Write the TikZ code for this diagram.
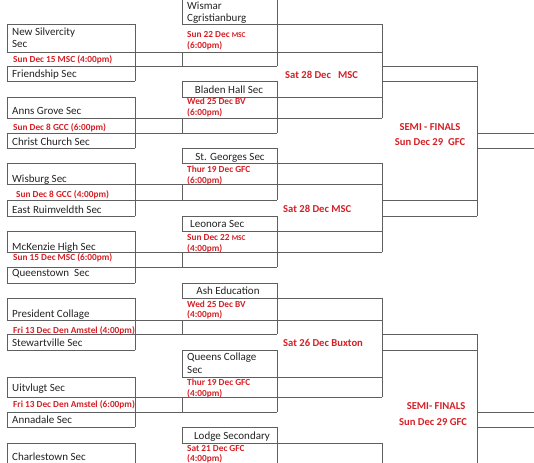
\documentclass[tikz,border=0pt]{standalone}
\usepackage{fontspec}
\setmainfont{Carlito}
\definecolor{dred}{RGB}{214,32,38}
\definecolor{gridc}{RGB}{95,95,95}
\definecolor{ink}{RGB}{35,35,35}
\begin{document}
\begin{tikzpicture}[x=1pt,y=-1pt,
  ln/.style={draw=gridc,line width=0.8pt},
  team/.style={inner sep=0pt,anchor=base west,text=ink,font=\fontsize{11}{13}\selectfont},
  teamc/.style={inner sep=0pt,anchor=base,text=ink,font=\fontsize{11}{13}\selectfont},
  date/.style={inner sep=0pt,anchor=base west,text=dred,font=\fontsize{9.3}{10}\selectfont\bfseries},
  rnd/.style={inner sep=0pt,anchor=base west,text=dred,font=\fontsize{10.6}{12}\selectfont\bfseries},
  semi/.style={inner sep=0pt,anchor=base,text=dred,font=\fontsize{10.6}{12}\selectfont\bfseries}]
\useasboundingbox (0,0) rectangle (534,462);
\clip (0,0) rectangle (534,462);
\fill[white] (0,0) rectangle (534,462);
% bracket grid
\foreach \t/\a/\b/\c/\d in {-3/24/52/66/81,81/97/118/133/148,148/163/184/200/216,216/231/252/267/283,283/298/320/334/350,350/377/397/412/427,427/443/464/478/494}{
  \draw[ln] (7,\a) -- (135,\a) (7,\d) -- (135,\d);
  \draw[ln] (7,\b) -- (382,\b);
  \draw[ln] (7,\c) -- (277,\c);
  \draw[ln] (182,\t) -- (277,\t);
  \draw[ln] (182,\a) -- (382,\a);
  \draw[ln] (7,\a) -- (7,\b) (7,\c) -- (7,\d) (135,\a) -- (135,\d);
  \draw[ln] (182,\t) -- (182,\a) (182,\b) -- (182,\c) (277,\t) -- (277,\c);
}
% third round
\draw[ln] (382,24) -- (382,118) (382,163) -- (382,252) (382,298) -- (382,397) (382,443) -- (382,470);
\draw[ln] (382,66) -- (477,66) (382,81) -- (477,81) (382,200) -- (477,200) (382,216) -- (477,216)
          (382,334) -- (477,334) (382,350) -- (477,350);
% semi finals
\draw[ln] (477,66) -- (477,216) (477,334) -- (477,470);
\draw[ln] (477,133) -- (534,133) (477,148) -- (534,148) (477,412) -- (534,412) (477,427) -- (534,427);
% first column
\node[team] (t1a) at (12,35.5) {New Silvercity};
\node[team] (t1a2) at (12,48) {Sec};
\node[date] (d1) at (13,63) {Sun Dec 15 MSC (4:00pm)};
\node[team] (t1b) at (12,77.5) {Friendship Sec};
\node[team] (t2a) at (12,114.5) {Anns Grove Sec};
\node[date] (d2) at (13,130.5) {Sun Dec 8 GCC (6:00pm)};
\node[team] (t2b) at (12,145.5) {Christ Church Sec};
\node[team] (t3a) at (12,182.5) {Wisburg Sec};
\node[date] (d3) at (16,197) {Sun Dec 8 GCC (4:00pm)};
\node[team] (t3b) at (12,213.5) {East Ruimveldth Sec};
\node[team] (t4a) at (12,250.5) {McKenzie High Sec};
\node[date] (d4) at (13,260) {Sun 15 Dec MSC (6:00pm)};
\node[team] (t4b) at (12,276.5) {Queenstown\ \ Sec};
\node[team] (t5a) at (12,317.5) {President Collage};
\node[date] (d5) at (13,333) {Fri 13 Dec Den Amstel (4:00pm)};
\node[team] (t5b) at (12,346.5) {Stewartville Sec};
\node[team] (t6a) at (12,391.5) {Uitvlugt Sec};
\node[date] (d6) at (13,407) {Fri 13 Dec Den Amstel (6:00pm)};
\node[team] (t6b) at (12,423.5) {Annadale Sec};
\node[team] (t7a) at (12,460) {Charlestown Sec};
% second column
\node[team] (m1) at (187,10) {Wismar};
\node[team] (m1b) at (187,21.5) {Cgristianburg};
\node[date] (md1) at (187,38) {Sun 22 Dec {\fontsize{7.4}{8}\selectfont MSC}};
\node[date] (md1b) at (187,48.5) {(6:00pm)};
\node[teamc] (m2) at (229,93.5) {Bladen Hall Sec};
\node[date] (md2) at (187,105) {Wed 25 Dec BV};
\node[date] (md2b) at (187,116) {(6:00pm)};
\node[teamc] (m3) at (230,160.5) {St. Georges Sec};
\node[date] (md3) at (187,172.5) {Thur 19 Dec GFC};
\node[date] (md3b) at (187,183) {(6:00pm)};
\node[team] (m4) at (190,227.5) {Leonora Sec};
\node[date] (md4) at (187,240) {Sun Dec 22 {\fontsize{7.4}{8}\selectfont MSC}};
\node[date] (md4b) at (187,251) {(4:00pm)};
\node[teamc] (m5) at (228,294.5) {Ash Education};
\node[date] (md5) at (187,307) {Wed 25 Dec BV};
\node[date] (md5b) at (187,317) {(4:00pm)};
\node[team] (m6) at (187,360.5) {Queens Collage};
\node[team] (m6b) at (187,373.5) {Sec};
\node[date] (md6) at (187,385) {Thur 19 Dec GFC};
\node[date] (md6b) at (187,396) {(4:00pm)};
\node[teamc] (m7) at (232,439.5) {Lodge Secondary};
\node[date] (md7) at (187,451) {Sat 21 Dec GFC};
\node[date] (md7b) at (187,461) {(4:00pm)};
% third column
\node[rnd] (r1) at (285,78.5) {Sat 28 Dec\ \ \ MSC};
\node[rnd] (r2) at (283,212.5) {Sat 28 Dec MSC};
\node[rnd] (r3) at (283,346.5) {Sat 26 Dec Buxton};
% semi finals
\node[semi] (s1) at (430,130.5) {SEMI - FINALS};
\node[semi] (s1b) at (430,145.5) {Sun Dec 29\ \ GFC};
\node[semi] (s2) at (436,409.5) {SEMI- FINALS};
\node[semi] (s2b) at (433,425.5) {Sun Dec 29 GFC};
\end{tikzpicture}
\end{document}
